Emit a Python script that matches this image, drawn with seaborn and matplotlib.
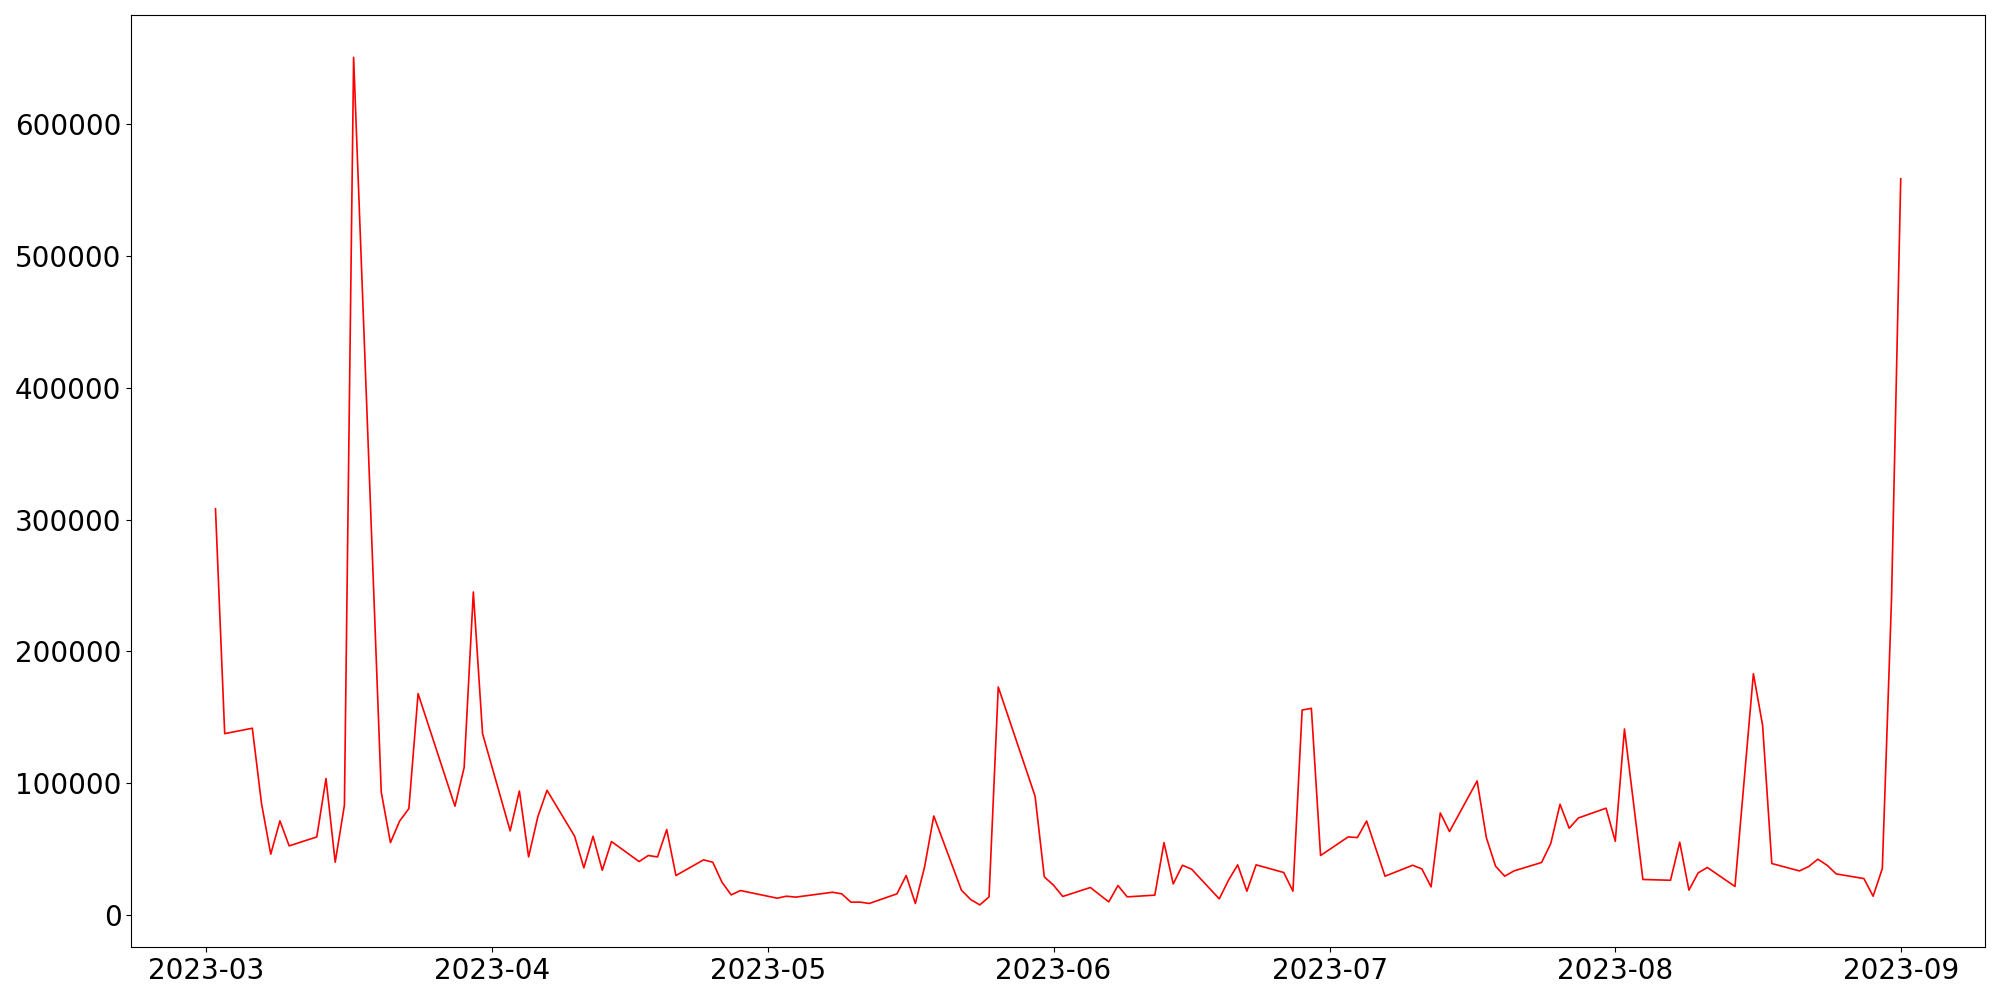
import pandas as pd
import matplotlib
matplotlib.use("Agg")
import matplotlib.pyplot as plt
import seaborn as sns

# daily values, one pair of lists per month
mar_days = [2, 3, 6, 7, 8, 9, 10, 13, 14, 15, 16, 17, 20, 21, 22, 23, 24, 28, 29, 30, 31]
mar_vals = [308200, 137500, 141600, 84400, 46000, 71300, 52300, 59100, 103400, 39900, 83100,
            650800, 93200, 54800, 71200, 80600, 167900, 82400, 111700, 245000, 137500]

apr_days = [3, 4, 5, 6, 7, 10, 11, 12, 13, 14, 17, 18, 19, 20, 21, 24, 25, 26, 27, 28]
apr_vals = [63700, 94000, 43900, 74300, 94500, 59600, 35600, 59600, 33800, 55600,
            40400, 45000, 43900, 64700, 29800, 41700, 39900, 24700, 15100, 18400]

may_days = [2, 3, 4, 8, 9, 10, 11, 12, 15, 16, 17, 18, 19, 22, 23, 24, 25, 26, 30, 31]
may_vals = [12600, 14100, 13400, 17100, 15900, 9600, 9600, 8600, 15900, 29800,
            8600, 36300, 75000, 18700, 11600, 7500, 13600, 172900, 90000, 28800]

jun_days = [1, 2, 5, 7, 8, 9, 12, 13, 14, 15, 16, 19, 20, 21, 22, 23, 26, 27, 28, 29, 30]
jun_vals = [22500, 13900, 20700, 9800, 22200, 13600, 14900, 54800, 23400, 37600, 34600,
            12100, 26200, 37900, 17900, 37900, 32100, 17900, 155400, 156700, 45000]

jul_days = [3, 4, 5, 7, 10, 11, 12, 13, 14, 17, 18, 19, 20, 21, 24, 25, 26, 27, 28, 31]
jul_vals = [59100, 58600, 71200, 29300, 37600, 34800, 21200, 77300, 63200, 101600,
            58600, 36900, 29300, 33300, 39700, 54100, 83900, 65700, 73500, 80900]

aug_days = [1, 2, 4, 7, 8, 9, 10, 11, 14, 16, 17, 18, 21, 22, 23, 24, 25, 28, 29, 30, 31]
aug_vals = [55800, 141000, 26800, 26200, 55100, 18700, 31800, 35900, 21500, 183000, 143800,
            38900, 33300, 36600, 42200, 37600, 31000, 27500, 14100, 35100, 240000]

sep_days = [1]
sep_vals = [558600]

months = [(3, mar_days, mar_vals), (4, apr_days, apr_vals), (5, may_days, may_vals),
          (6, jun_days, jun_vals), (7, jul_days, jul_vals), (8, aug_days, aug_vals),
          (9, sep_days, sep_vals)]

rows = []
for m, days, vals in months:
    for d, v in zip(days, vals):
        rows.append({'date': pd.Timestamp(2023, m, d), 'value': v})
df = pd.DataFrame(rows)

fig, ax = plt.subplots(figsize=(20, 10))
sns.lineplot(data=df, x='date', y='value', color='red', linewidth=1.2,
             estimator=None, ax=ax)
ax.set_xlabel('')
ax.set_ylabel('')
ax.tick_params(axis='both', labelsize=20)

plt.tight_layout()
plt.savefig('out.png', dpi=100)
